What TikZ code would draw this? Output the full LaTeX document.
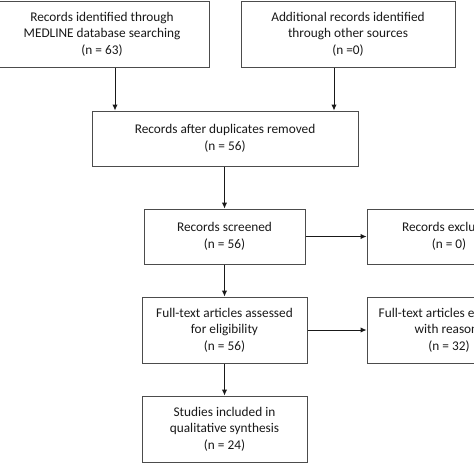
\documentclass[tikz,border=0pt]{standalone}
\usepackage{fontspec}
\setmainfont{Carlito}
\usetikzlibrary{positioning,arrows.meta}

\begin{document}
\begin{tikzpicture}[
    x=1pt, y=-1pt,
    punkt/.style={rectangle, draw=black!70, line width=1pt, fill=white,
    text=black!90, align=center, inner sep=0pt,
    font=\fontsize{13.3}{16.5}\selectfont},
    flow/.style={-{Latex[length=6pt,width=5.5pt]}, draw=black!90, line width=1pt}
    ]
\useasboundingbox (0,0) rectangle (474,474);
\clip (0,0) rectangle (474,474);

%Identification
\node[punkt, minimum width=214pt, minimum height=66pt] (medline) at (102,34)
    {Records identified through\\MEDLINE database searching\\(n = 63)};
\node[punkt, minimum width=214pt, minimum height=66pt] (other) at (348,34)
    {Additional records identified\\through other sources\\(n =0)};
\node[punkt, minimum width=266pt, minimum height=55pt] (dupl) at (225,138.5)
    {Records after duplicates removed\\(n = 56)};

%Screening
\node[punkt, minimum width=161pt, minimum height=55pt] (screen) at (224.5,236.5)
    {Records screened\\(n = 56)};
\node[punkt, minimum width=164pt, minimum height=55pt] (excl) at (449,236.5)
    {Records excluded\\(n = 0)};

%Eligibility
\node[punkt, minimum width=165pt, minimum height=66pt] (fulltext) at (224.5,330)
    {Full-text articles assessed\\for eligibility\\(n = 56)};
\node[punkt, minimum width=164pt, minimum height=66pt] (fexcl) at (449,330)
    {Full-text articles excluded,\\with reasons\\(n = 32)};

%Included
\node[punkt, minimum width=165pt, minimum height=66pt] (incl) at (224.5,429)
    {Studies included in\\qualitative synthesis\\(n = 24)};

\draw[flow] ([xshift=13pt]medline.south) -- ([xshift=13pt]medline.south |- dupl.north);
\draw[flow] ([xshift=-14pt]other.south) -- ([xshift=-14pt]other.south |- dupl.north);
\draw[flow] (dupl.south -| screen.north) -- (screen.north);
\draw[flow] (screen.east) -- (screen.east -| excl.west);
\draw[flow] (screen.south) -- (fulltext.north);
\draw[flow] (fulltext.east) -- (fulltext.east -| fexcl.west);
\draw[flow] (fulltext.south) -- (incl.north);
\end{tikzpicture}
\end{document}
